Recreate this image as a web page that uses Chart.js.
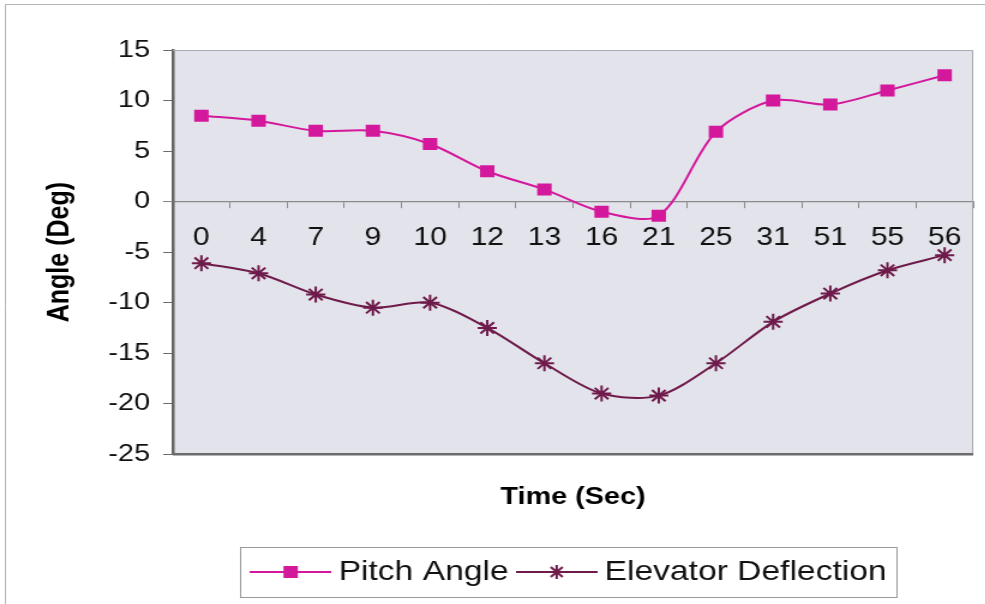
<!DOCTYPE html>
<html>
<head>
<meta charset="utf-8">
<script src="https://cdn.jsdelivr.net/npm/chart.js@4.4.0/dist/chart.umd.min.js"></script>
<style>
html, body { margin: 0; padding: 0; background: #fff; overflow: hidden; }
#wrap { width: 821px; height: 604px; transform: scaleX(1.2); transform-origin: 0 0; }
</style>
</head>
<body>
<div id="wrap"><canvas id="chart" width="821" height="604"></canvas></div>
<script>
// time labels (sec) and the two series
var times = ['0', '4', '7', '9', '10', '12', '13', '16', '21', '25', '31', '51', '55', '56'];
var pitchAngle = [8.5, 8.0, 7.0, 7.0, 5.7, 3.0, 1.2, -1.0, -1.4, 6.9, 10.0, 9.6, 11.0, 12.5];
var elevatorDeflection = [-6.1, -7.1, -9.2, -10.5, -10.0, -12.5, -16.0, -19.0, -19.2, -16.0, -11.9, -9.1, -6.8, -5.3];

var pitchColor = '#d4189c';
var elevColor = '#6e1a4a';

// little line+marker icons for the legend, like the Excel one
function makeIcon(color, marker) {
    var c = document.createElement('canvas');
    c.width = 68;
    c.height = 20;
    var g = c.getContext('2d');
    g.strokeStyle = color;
    g.lineWidth = 2;
    g.beginPath();
    g.moveTo(0, 10);
    g.lineTo(68, 10);
    g.stroke();
    if (marker === 'rect') {
        g.fillStyle = color;
        g.fillRect(28, 4, 12, 12);
    } else {
        g.lineWidth = 2;
        g.beginPath();
        for (var i = 0; i < 4; i++) {
            var a = i * Math.PI / 4;
            g.moveTo(34 - 7 * Math.cos(a), 10 - 7 * Math.sin(a));
            g.lineTo(34 + 7 * Math.cos(a), 10 + 7 * Math.sin(a));
        }
        g.stroke();
    }
    return c;
}
var legendIcons = [makeIcon(pitchColor, 'rect'), makeIcon(elevColor, 'star')];

var framePlugin = {
    id: 'frame',
    beforeDraw: function(chart) {
        var ctx = chart.ctx, a = chart.chartArea;
        ctx.save();
        ctx.fillStyle = '#e3e3eb';
        ctx.fillRect(a.left, a.top, a.right - a.left, a.bottom - a.top);
        ctx.strokeStyle = '#b4b4b4';
        ctx.lineWidth = 1;
        ctx.beginPath();
        ctx.moveTo(4.5, 604);
        ctx.lineTo(4.5, 4.5);
        ctx.lineTo(821, 4.5);
        ctx.stroke();
        ctx.restore();
    },
    afterDraw: function(chart) {
        var ctx = chart.ctx, a = chart.chartArea;
        var y0 = chart.scales.y.getPixelForValue(0);
        ctx.save();
        ctx.lineWidth = 1;
        ctx.strokeStyle = '#a9a9b2';
        ctx.beginPath();
        ctx.moveTo(a.left, a.top + 0.5);
        ctx.lineTo(a.right, a.top + 0.5);
        ctx.moveTo(a.right - 0.5, a.top);
        ctx.lineTo(a.right - 0.5, a.bottom);
        ctx.stroke();
        ctx.strokeStyle = '#8a8a8a';
        ctx.beginPath();
        ctx.moveTo(a.left - 7, y0);
        ctx.lineTo(a.left, y0);
        ctx.stroke();
        ctx.strokeStyle = '#6c6c6c';
        ctx.lineWidth = 2.5;
        ctx.beginPath();
        ctx.moveTo(a.left, a.bottom);
        ctx.lineTo(a.right, a.bottom);
        ctx.stroke();

        // box round the legend
        var hb = chart.legend.legendHitBoxes;
        if (hb && hb.length) {
            var l = hb[0].left, r = hb[0].left + hb[0].width;
            hb.forEach(function(h) {
                l = Math.min(l, h.left);
                r = Math.max(r, h.left + h.width);
            });
            l -= 8;
            var cy = hb[0].top + hb[0].height / 2;
            ctx.strokeStyle = '#9a9a9a';
            ctx.lineWidth = 1;
            ctx.strokeRect(Math.round(l - 8) + 0.5, Math.round(cy - 25) + 0.5, Math.round(r - l + 16), 50);
        }
        ctx.restore();
    }
};

var ctx = document.getElementById('chart').getContext('2d');
var config = {
    type: 'line',
    data: {
        labels: times,
        datasets: [{
            label: 'Pitch Angle',
            data: pitchAngle,
            borderColor: pitchColor,
            backgroundColor: pitchColor,
            borderWidth: 2,
            pointStyle: 'rect',
            pointRadius: 8.5,
            pointBorderWidth: 0,
            tension: 0.3
        }, {
            label: 'Elevator Deflection',
            data: elevatorDeflection,
            borderColor: elevColor,
            backgroundColor: elevColor,
            borderWidth: 2,
            pointStyle: 'star',
            pointRadius: 8,
            pointBorderWidth: 2,
            tension: 0.3
        }]
    },
    options: {
        responsive: false,
        animation: false,
        devicePixelRatio: 1,
        layout: { padding: { top: 50, left: 0, right: 10, bottom: 8 } },
        plugins: {
            tooltip: { enabled: false },
            title: {
                display: true,
                text: 'Time (Sec)',
                position: 'bottom',
                fullSize: false,
                weight: 500,
                color: '#000',
                font: { family: 'Liberation Sans', size: 24, weight: 'bold' },
                padding: { top: 29, bottom: 32 }
            },
            legend: {
                display: true,
                position: 'bottom',
                fullSize: false,
                labels: {
                    usePointStyle: true,
                    pointStyleWidth: 52,
                    padding: 14,
                    color: '#111',
                    font: { family: 'Liberation Sans', size: 28 },
                    generateLabels: function(chart) {
                        var items = Chart.defaults.plugins.legend.labels.generateLabels(chart);
                        items.forEach(function(it, i) { it.pointStyle = legendIcons[i]; });
                        return items;
                    }
                }
            }
        },
        scales: {
            x: {
                position: { y: 0 },
                offset: true,
                grid: { offset: true, drawOnChartArea: false, drawTicks: true, tickLength: 6, color: '#8a8a8a' },
                border: { display: true, color: '#8a8a8a', width: 1.2 },
                ticks: {
                    color: '#111',
                    padding: 16,
                    maxRotation: 0,
                    autoSkip: false,
                    font: { family: 'Liberation Sans', size: 25 }
                }
            },
            y: {
                min: -25,
                max: 15,
                afterFit: function(scale) { scale.width = 144; },
                grid: { drawOnChartArea: false, drawTicks: true, tickLength: 8, color: '#6c6c6c' },
                border: { display: true, color: '#666', width: 2.5 },
                ticks: {
                    stepSize: 5,
                    color: '#111',
                    padding: 11,
                    font: { family: 'Liberation Sans', size: 24 }
                },
                title: {
                    display: true,
                    text: 'Angle (Deg)',
                    color: '#000',
                    font: { family: 'Liberation Sans', size: 25, weight: 'bold' },
                    padding: { top: 35, bottom: 0 }
                }
            }
        }
    },
    plugins: [framePlugin]
};

var chart = new Chart(ctx, config);
</script>
</body>
</html>
